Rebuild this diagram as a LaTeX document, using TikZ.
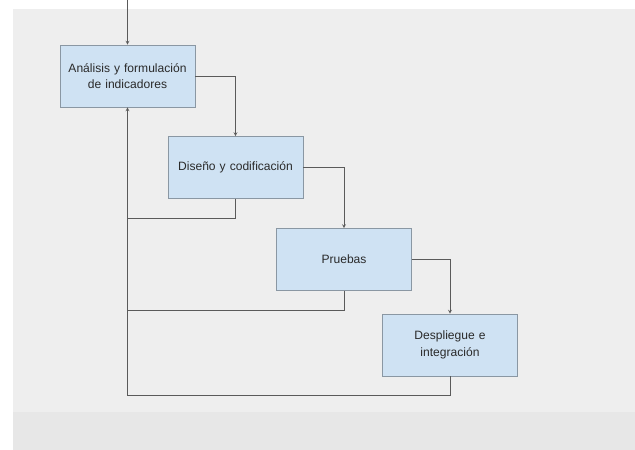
\documentclass[tikz,border=0pt]{standalone}
\usepackage{fontspec}
\setmainfont{Liberation Sans}
\usepackage{tikz}
\usetikzlibrary{arrows,shapes}
\usetikzlibrary{calc}

\definecolor{fondo}{HTML}{EEEEEE}
\definecolor{fondobajo}{HTML}{E7E7E7}
\definecolor{cajaazul}{HTML}{CFE2F3}
\definecolor{bordecaja}{HTML}{8A97A3}
\definecolor{linea}{HTML}{5A5A5A}
\definecolor{texto}{HTML}{2A2A2A}

\begin{document}
\begin{tikzpicture}[x=0.03cm,y=-0.03cm,->,>=stealth,
      etapa/.style={rectangle,draw=bordecaja,fill=cajaazul,line width=0.6pt,
        minimum width=4.05cm,minimum height=1.86cm,inner sep=2pt,
        text width=3.7cm,align=center,text=texto,
        font=\fontsize{10.3}{14}\selectfont},
      flujo/.style={draw=linea,line width=0.5pt}]
      \useasboundingbox (0,0) rectangle (635,450);
      % fondo de la foto
      \fill[white] (0,0) rectangle (635,450);
      \fill[fondo] (13,9) rectangle (635,450);
      \fill[fondobajo] (13,412) rectangle (635,450);

      \node[etapa] (a) at (127.5,76)  {An\'alisis y formulaci\'on\\de indicadores};
      \node[etapa] (b) at (235.5,167.5) {Dise\~no y codificaci\'on};
      \node[etapa] (c) at (344,259.5) {Pruebas};
      \node[etapa] (d) at (450,345) {Despliegue e\\integraci\'on};

      \coordinate (ini) at (127.5,0);
      \coordinate (r1) at (127.5,218);
      \coordinate (r2) at (127.5,310);
      \coordinate (r3) at (127.5,395);

      % cascada
      \draw[flujo] (ini) -- (a);
      \draw[flujo] (a.east) -| (b.north);
      \draw[flujo] (b.east) -| (c.north);
      \draw[flujo] (c.east) -| (d.north);
      % retroalimentacion
      \draw[flujo,-] (b.south) |- (r1);
      \draw[flujo,-] (c.south) |- (r2);
      \draw[flujo] (d.south) |- (r3) -- (a.south);
    \end{tikzpicture}
\end{document}
